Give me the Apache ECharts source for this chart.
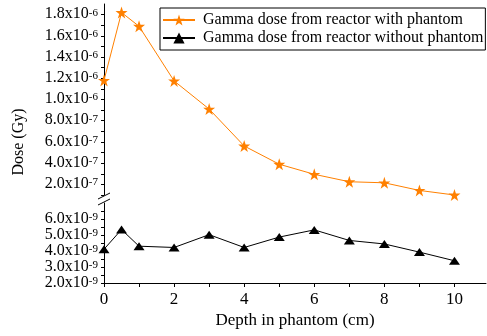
<!DOCTYPE html>
<html><head><meta charset="utf-8">
<script src="https://cdn.jsdelivr.net/npm/echarts@6/dist/echarts.min.js"></script>
<style>html,body{margin:0;padding:0;background:#fff}#c{width:487px;height:336px}</style>
</head><body><div id="c"></div>
<script>
// ---- data ----
const depth = [0, 0.5, 1, 2, 3, 4, 5, 6, 7, 8, 9, 10];
const withPhantom = [1.18e-6, 1.82e-6, 1.69e-6, 1.175e-6, 0.91e-6, 0.562e-6, 0.39e-6, 0.295e-6, 0.225e-6, 0.215e-6, 0.143e-6, 0.10e-6];
const withoutPhantom = [4.11e-9, 5.34e-9, 4.30e-9, 4.22e-9, 5.02e-9, 4.22e-9, 4.87e-9, 5.32e-9, 4.66e-9, 4.44e-9, 3.93e-9, 3.39e-9];
const seriesNames = ['Gamma dose from reactor with phantom', 'Gamma dose from reactor without phantom'];
const xTickLabels = [0, 2, 4, 6, 8, 10];
const upperTickLabels = [2e-7, 4e-7, 6e-7, 8e-7, 1.0e-6, 1.2e-6, 1.4e-6, 1.6e-6, 1.8e-6];
const lowerTickLabels = [2e-9, 3e-9, 4e-9, 5e-9, 6e-9];

// ---- layout / style ----
const UPPER_UNIT = 1e-7, LOWER_UNIT = 1e-9;
const FONT = '"Liberation Serif","Times New Roman",serif';
const GL = 104, GR = 1, UT = 4, UB = 195, LT = 203, LB = 283;
const ORANGE = '#FF8000';
const STAR = 'path://M50,0 L61.8,35.5 L99,35.5 L69,57.5 L80.5,93 L50,71 L19.5,93 L31,57.5 L1,35.5 L38.2,35.5 Z';

const rich = {
  b: { fontFamily: FONT, fontSize: 16, color: '#000', lineHeight: 15, verticalAlign: 'bottom' },
  s: { fontFamily: FONT, fontSize: 11, color: '#000', lineHeight: 15, verticalAlign: 'top' }
};
function sci(v) {
  const e = Math.floor(Math.log10(v) + 1e-9);
  const m = v / Math.pow(10, e);
  return '{b|' + m.toFixed(1) + 'x10}{s|' + e + '}';
}
const range = (a, b, s) => { const r = []; for (let v = a; v <= b + 1e-9; v += s) r.push(+v.toFixed(4)); return r; };

const chart = echarts.init(document.getElementById('c'));
chart.setOption({
  animation: false,
  backgroundColor: '#fff',
  grid: [
    { left: GL, right: GR, top: UT, height: UB - UT },
    { left: GL, right: GR, top: LT, height: LB - LT }
  ],
  xAxis: [
    { gridIndex: 0, type: 'value', min: 0, max: 10.9, show: false },
    { gridIndex: 1, type: 'value', min: 0, max: 10.9,
      axisLine: { show: true, onZero: false, lineStyle: { color: '#000', width: 1 } },
      axisTick: { show: true, inside: false, length: 4, lineStyle: { color: '#000' }, customValues: range(0, 10, 1) },
      axisLabel: { customValues: xTickLabels, color: '#000', fontFamily: FONT, fontSize: 17, margin: 8,
        showMinLabel: true, showMaxLabel: true, hideOverlap: false },
      splitLine: { show: false },
      name: 'Depth in phantom (cm)', nameLocation: 'middle', nameGap: 29,
      nameTextStyle: { color: '#000', fontFamily: FONT, fontSize: 17 }
    }
  ],
  yAxis: [
    { gridIndex: 0, type: 'value', min: 1, max: 19,
      axisLine: { show: true, onZero: false, lineStyle: { color: '#000', width: 1 } },
      axisTick: { show: true, length: 3, lineStyle: { color: '#000' }, customValues: range(1, 18, 1) },
      axisLabel: { customValues: upperTickLabels.map(v => v / UPPER_UNIT), margin: 6,
        showMinLabel: true, showMaxLabel: true, hideOverlap: false,
        formatter: v => sci(v * UPPER_UNIT), rich: rich },
      splitLine: { show: false }
    },
    { gridIndex: 1, type: 'value', min: 2, max: 7,
      axisLine: { show: true, onZero: false, lineStyle: { color: '#000', width: 1 } },
      axisTick: { show: true, length: 3, lineStyle: { color: '#000' }, customValues: range(2, 6.5, 0.5) },
      axisLabel: { customValues: lowerTickLabels.map(v => v / LOWER_UNIT), margin: 6,
        showMinLabel: true, showMaxLabel: true, hideOverlap: false,
        formatter: v => sci(v * LOWER_UNIT), rich: rich },
      splitLine: { show: false }
    }
  ],
  legend: {
    orient: 'vertical', left: 160, top: 8,
    padding: [4, 2, 4, 2], itemGap: 2, itemWidth: 32, itemHeight: 14,
    borderColor: '#000', borderWidth: 1, backgroundColor: '#fff',
    textStyle: { color: '#000', fontFamily: FONT, fontSize: 16, padding: [0, 0, 0, 3] },
    data: seriesNames
  },
  series: [
    { name: seriesNames[0], type: 'line', xAxisIndex: 0, yAxisIndex: 0,
      data: depth.map((d, i) => [d, withPhantom[i] / UPPER_UNIT]),
      symbol: STAR, symbolSize: 12, showAllSymbol: true,
      lineStyle: { color: ORANGE, width: 1 }, itemStyle: { color: ORANGE } },
    { name: seriesNames[1], type: 'line', xAxisIndex: 1, yAxisIndex: 1,
      data: depth.map((d, i) => [d, withoutPhantom[i] / LOWER_UNIT]),
      symbol: 'triangle', symbolSize: [11, 8], showAllSymbol: true,
      lineStyle: { color: '#000', width: 1 }, itemStyle: { color: '#000' } }
  ],
  graphic: [
    { type: 'text', x: 19, y: 142, rotation: Math.PI / 2,
      style: { text: 'Dose (Gy)', fill: '#000', font: '16px ' + FONT, align: 'center', verticalAlign: 'middle' } },
    { type: 'line', shape: { x1: GL - 6, y1: UB + 4, x2: GL + 6, y2: UB - 2 }, style: { stroke: '#000', lineWidth: 1 } },
    { type: 'line', shape: { x1: GL - 6, y1: LT + 2, x2: GL + 6, y2: LT - 4 }, style: { stroke: '#000', lineWidth: 1 } }
  ]
});
</script>
</body></html>
